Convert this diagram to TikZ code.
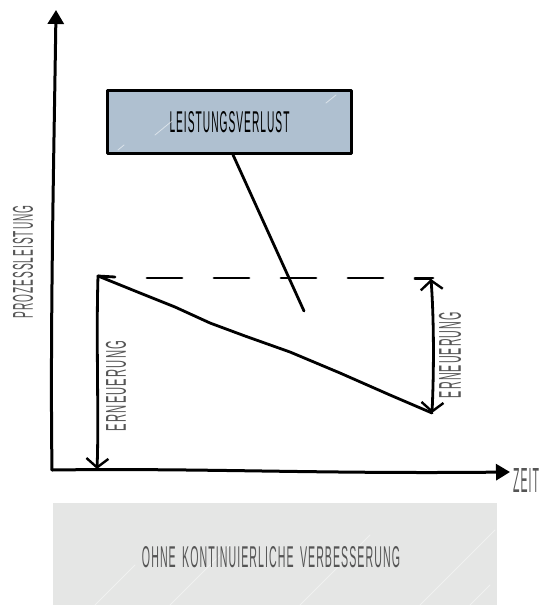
\documentclass[tikz,border=0pt]{standalone}
\usepackage{fontspec}
\usepackage{graphicx}
\usetikzlibrary{arrows.meta}
\newfontfamily\handfont[LetterSpace=10,WordSpace=1.6]{Liberation Sans}
\definecolor{boxblue}{HTML}{AFC0D0}
\definecolor{boxgrey}{HTML}{E5E6E5}
\definecolor{inkgrey}{HTML}{555555}
% condensed caps squeezed to a given width and cap height
\newcommand{\handcaps}[3]{\resizebox{#1}{#2}{\handfont #3}}
\begin{document}
\begin{tikzpicture}[x=1pt,y=-1pt,line cap=round,line join=round,
  ink/.style={draw=black,line width=2.8pt},
  txt/.style={inner sep=0pt,text=inkgrey},
  barb/.tip={Straight Barb[length=9pt,width=22pt,line width=2.4pt]},
  axistip/.tip={Triangle[length=14pt,width=16pt]},
  lossbox/.style={draw=black,line width=2.6pt,fill=boxblue,minimum width=244pt,minimum height=63pt,inner sep=0pt},
  notebox/.style={fill=boxgrey,minimum width=444pt,minimum height=104pt,inner sep=0pt,anchor=north west},
  scratch/.style={draw=white,line width=0.8pt,opacity=0.55}]
\useasboundingbox (0,0) rectangle (542,605);

% key points of the chart
\coordinate (origin) at (52,470);
\coordinate (ytop) at (56,10);
\coordinate (xend) at (510,472);
\coordinate (start) at (98,276);
\coordinate (leftfoot) at (97,469);
\coordinate (finish) at (432,413);
\coordinate (righttop) at (431,279);
\coordinate (dashstart) at (147,278);
\coordinate (dashend) at (433,278);
\coordinate (pointer) at (304,311);

% axes
\draw[ink,line width=3pt,-axistip] (origin) .. controls (50,330) and (54,150) .. (ytop);
\draw[ink,line width=3pt,-axistip] (origin) .. controls (200,468) and (320,474) .. (xend);

% loss box with its pointer
\node[lossbox] (loss) at (229.5,122) {\handcaps{120pt}{21pt}{LEISTUNGSVERLUST}};
\draw[scratch] (155,135) -- (172,121);
\draw[scratch] (326,103) -- (336,95);
\draw[scratch] (118,150) -- (124,145);
\draw[ink] ([xshift=3.5pt]loss.south) -- (pointer);

% target level (dashed)
\draw[ink,dash pattern=on 35pt off 32pt] (dashstart) -- (dashend);

% declining performance
\draw[ink] (start) -- (140,293) -- (175,307) -- (210,323) -- (245,336) -- (290,352) -- (340,373) -- (390,395) -- (finish);

% renewal arrows
\draw[ink] (start) -- ++(17,1);
\draw[ink,-barb] (start) .. controls (96,340) and (99,420) .. (leftfoot);
\draw[ink] (righttop) -- ++(-16,0);
\draw[ink,barb-barb] (righttop) .. controls (434,320) and (434,370) .. (finish);

% labels
\node[txt,rotate=90] (ylab) at (23,262) {\handcaps{113pt}{20pt}{PROZESSLEISTUNG}};
\node[txt] (xlab) at (526,480) {\handcaps{26pt}{24pt}{ZEIT}};
\node[txt,rotate=90] (renewleft) at (116,386) {\handcaps{90pt}{20pt}{ERNEUERUNG}};
\node[txt,rotate=90] (renewright) at (450,355) {\handcaps{86pt}{22pt}{ERNEUERUNG}};

% caption panel
\node[notebox] (note) at (53,503) {};
\foreach \a/\b in {95/40,170/60,300/70,420/75,470/20}{
  \draw[scratch,opacity=0.45] (\a,605) -- ++(\b,-\b);
}
\node[txt] (notetext) at (271,557) {\handcaps{258pt}{21pt}{OHNE KONTINUIERLICHE VERBESSERUNG}};
\end{tikzpicture}
\end{document}
